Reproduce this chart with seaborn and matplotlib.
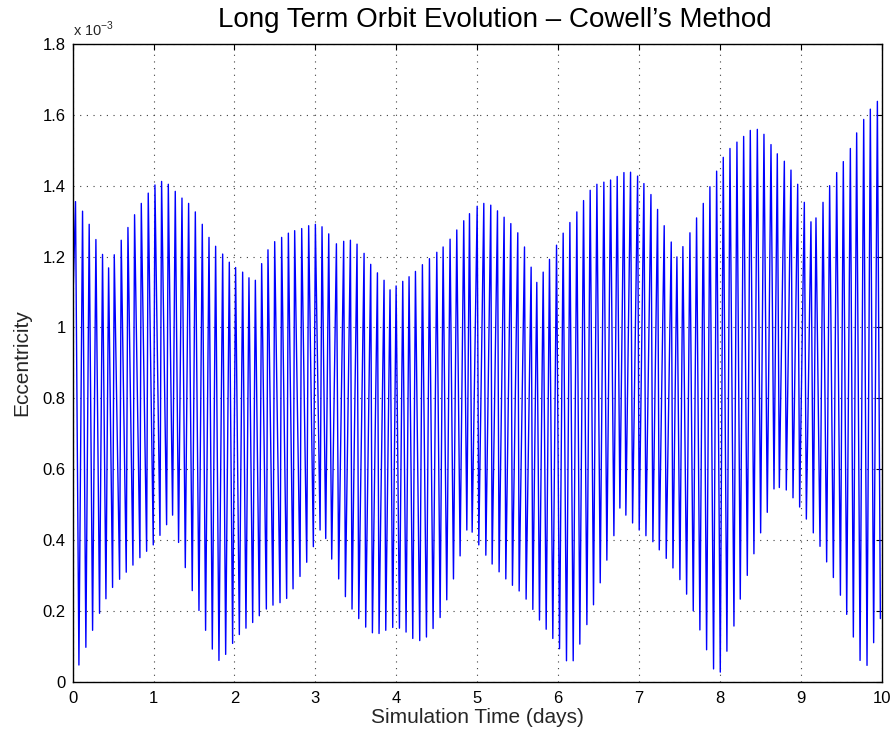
import numpy as np
import pandas as pd
import matplotlib
matplotlib.use("Agg")
import matplotlib.pyplot as plt
import seaborn as sns

# ---- data (eccentricity in units of 1e-3) ----
start_t = [0.0]
start_e = [1.05]

peak_t = [0.035, 0.122, 0.204, 0.287, 0.369, 0.444, 0.514, 0.600, 0.683, 0.765,
          0.848, 0.934, 1.017, 1.099, 1.182, 1.268, 1.351, 1.433, 1.516, 1.602,
          1.685, 1.767, 1.854, 1.936, 2.014, 2.101, 2.179, 2.258, 2.336, 2.414,
          2.497, 2.583, 2.666, 2.744, 2.831, 2.917, 3.000, 3.082, 3.165, 3.260,
          3.350, 3.433, 3.515, 3.602, 3.684, 3.767, 3.849, 3.923, 3.998, 4.080,
          4.158, 4.237, 4.323, 4.410, 4.501, 4.579, 4.665, 4.748, 4.834, 4.905,
          5.000, 5.082, 5.168, 5.251, 5.333, 5.416, 5.502, 5.585, 5.667, 5.737,
          5.816, 5.894, 5.981, 6.063, 6.146, 6.232, 6.315, 6.397, 6.480, 6.566,
          6.649, 6.731, 6.814, 6.896, 6.983, 7.061, 7.148, 7.230,
          7.312, 7.399, 7.469, 7.543, 7.630, 7.712, 7.795, 7.877, 7.960, 8.042,
          8.125, 8.211, 8.294, 8.376, 8.463, 8.545, 8.632, 8.710, 8.797, 8.879,
          8.962, 9.044, 9.126, 9.188, 9.275, 9.357, 9.444, 9.526, 9.613, 9.691,
          9.778, 9.860, 9.947]
peak_e = [1.355, 1.328, 1.291, 1.248, 1.206, 1.168, 1.205, 1.246, 1.282, 1.318,
          1.350, 1.379, 1.402, 1.412, 1.404, 1.384, 1.365, 1.350, 1.326, 1.291,
          1.254, 1.229, 1.207, 1.184, 1.169, 1.156, 1.140, 1.133, 1.180, 1.219,
          1.242, 1.254, 1.266, 1.273, 1.279, 1.287, 1.291, 1.284, 1.264, 1.236,
          1.243, 1.246, 1.235, 1.209, 1.178, 1.154, 1.133, 1.106, 1.117, 1.130,
          1.143, 1.158, 1.177, 1.194, 1.212, 1.227, 1.249, 1.275, 1.301, 1.321,
          1.342, 1.350, 1.345, 1.329, 1.311, 1.293, 1.267, 1.227, 1.170, 1.127,
          1.156, 1.192, 1.232, 1.266, 1.296, 1.326, 1.358, 1.387, 1.404, 1.410,
          1.416, 1.426, 1.437, 1.438, 1.427, 1.406, 1.375, 1.333,
          1.287, 1.241, 1.199, 1.228, 1.267, 1.309, 1.350, 1.397, 1.441, 1.480,
          1.505, 1.523, 1.539, 1.556, 1.559, 1.545, 1.516, 1.490, 1.469, 1.444,
          1.404, 1.353, 1.298, 1.309, 1.353, 1.400, 1.437, 1.468, 1.505, 1.549,
          1.587, 1.616, 1.638]

trough_t = [0.077, 0.163, 0.246, 0.332, 0.411, 0.493, 0.580, 0.662, 0.745, 0.831,
            0.914, 0.996, 1.079, 1.161, 1.235, 1.309, 1.392, 1.478, 1.561, 1.643,
            1.726, 1.808, 1.891, 1.977, 2.060, 2.142, 2.225, 2.307, 2.394,
            2.476, 2.563, 2.645, 2.724, 2.810, 2.893, 2.975, 3.058, 3.128, 3.202,
            3.288, 3.371, 3.453, 3.536, 3.622, 3.705, 3.787, 3.870, 3.956, 4.039,
            4.121, 4.204, 4.290, 4.373, 4.455, 4.542, 4.624, 4.707, 4.789, 4.872,
            4.938, 5.020, 5.107, 5.185, 5.271, 5.354, 5.436, 5.519, 5.605, 5.688,
            5.770, 5.853, 5.935, 6.018, 6.104, 6.187, 6.269, 6.356, 6.438, 6.521,
            6.603, 6.690, 6.764, 6.838, 6.921, 7.003, 7.086, 7.172, 7.251, 7.337,
            7.420, 7.506, 7.589, 7.671, 7.753, 7.836, 7.922, 8.005, 8.087, 8.174,
            8.252, 8.339, 8.421, 8.504, 8.586, 8.669, 8.735, 8.821, 8.904, 8.986,
            9.069, 9.155, 9.238, 9.320, 9.403, 9.490, 9.568, 9.650, 9.733, 9.819,
            9.901, 9.984]
trough_e = [0.047, 0.097, 0.145, 0.193, 0.234, 0.266, 0.289, 0.309, 0.329, 0.350,
            0.368, 0.386, 0.413, 0.443, 0.470, 0.393, 0.322, 0.257, 0.201, 0.145,
            0.092, 0.060, 0.077, 0.108, 0.133, 0.151, 0.167, 0.186, 0.205,
            0.216, 0.223, 0.235, 0.262, 0.297, 0.337, 0.381, 0.428, 0.404, 0.346,
            0.290, 0.240, 0.205, 0.178, 0.154, 0.138, 0.136, 0.145, 0.153, 0.151,
            0.140, 0.122, 0.116, 0.126, 0.150, 0.181, 0.231, 0.290, 0.355, 0.428,
            0.422, 0.386, 0.357, 0.332, 0.310, 0.290, 0.272, 0.256, 0.233, 0.204,
            0.174, 0.148, 0.122, 0.093, 0.059, 0.059, 0.106, 0.161, 0.217, 0.279,
            0.343, 0.412, 0.490, 0.470, 0.448, 0.428, 0.412, 0.395, 0.372, 0.348,
            0.321, 0.288, 0.247, 0.200, 0.146, 0.090, 0.036, 0.027, 0.086, 0.157,
            0.233, 0.300, 0.361, 0.420, 0.478, 0.544, 0.548, 0.541, 0.519, 0.493,
            0.459, 0.420, 0.382, 0.338, 0.294, 0.244, 0.190, 0.126, 0.060, 0.046,
            0.110, 0.178]

x_ticks = [0, 1, 2, 3, 4, 5, 6, 7, 8, 9, 10]
y_ticks = [0, 0.2, 0.4, 0.6, 0.8, 1.0, 1.2, 1.4, 1.6, 1.8]
y_tick_labels = ["0", "0.2", "0.4", "0.6", "0.8", "1", "1.2", "1.4", "1.6", "1.8"]

title = "Long Term Orbit Evolution \u2013 Cowell\u2019s Method"
xlabel = "Simulation Time (days)"
ylabel = "Eccentricity"

df = pd.DataFrame({"t": start_t + peak_t + trough_t,
                   "e": start_e + peak_e + trough_e}).sort_values("t")

sns.set_style("white")
plt.rcParams["font.family"] = ["Liberation Sans", "DejaVu Sans"]
plt.rcParams["mathtext.fontset"] = "custom"
plt.rcParams["mathtext.rm"] = "Liberation Sans"

fig = plt.figure(figsize=(8.94, 7.34), dpi=100)
ax = fig.add_axes([0.0813, 0.0713, 0.9049, 0.8688])

sns.lineplot(data=df, x="t", y="e", ax=ax, color=(0, 0, 1), lw=1.0,
             estimator=None, sort=False)

ax.set_xlim(0, 10)
ax.set_ylim(0, 1.8)
ax.set_xticks(x_ticks)
ax.set_xticklabels([str(v) for v in x_ticks])
ax.set_yticks(y_ticks)
ax.set_yticklabels(y_tick_labels)
ax.tick_params(direction="in", length=4, width=0.8, top=True, right=True,
               labelsize=12, colors="black")
ax.tick_params(axis="x", pad=7)
ax.tick_params(axis="y", pad=5)
for s in ax.spines.values():
    s.set_color("black")
    s.set_linewidth(1.0)
ax.grid(True, color="0.25", linestyle=(0, (1, 5)), linewidth=0.8)

ax.set_xlabel(xlabel, fontsize=15, labelpad=1)
ax.set_ylabel(ylabel, fontsize=15, labelpad=8)
ax.set_title(title, fontsize=20, pad=12, color="black", x=0.522)
ax.text(0.0, 1.008, r"x 10$^{-3}$", transform=ax.transAxes, fontsize=10.5,
        ha="left", va="bottom")

fig.savefig("out.png", dpi=100)
